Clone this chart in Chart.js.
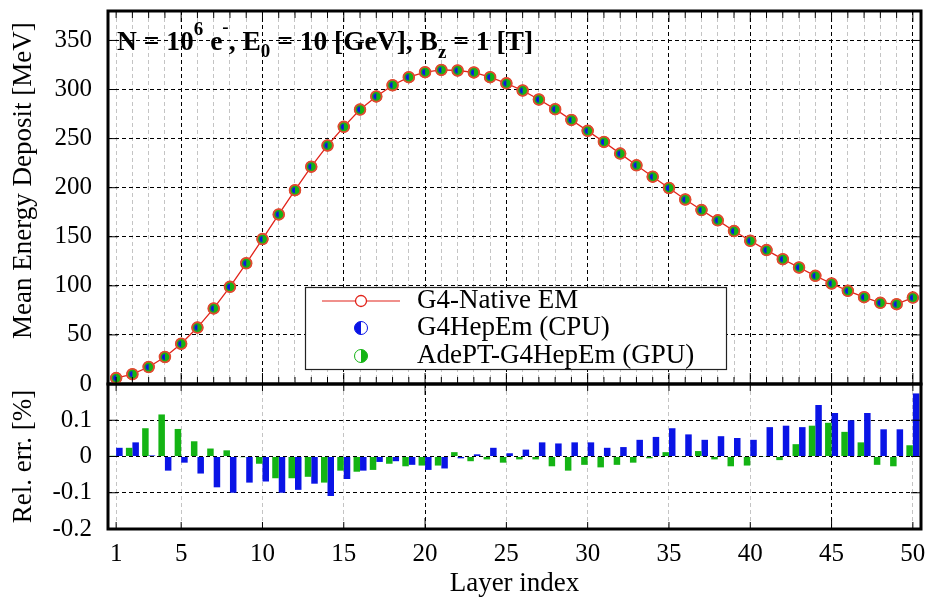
<!DOCTYPE html>
<html>
<head>
<meta charset="utf-8">
<script src="https://cdn.jsdelivr.net/npm/chart.js@4.4.0/dist/chart.umd.min.js"></script>
<style>
  body { margin: 0; background: #fff; }
  #wrap { position: relative; width: 936px; height: 597px; overflow: hidden; background: #fff; }
  canvas { position: absolute; left: 0; }
  #top { top: 0; }
  #bottom { top: 374px; }
</style>
</head>
<body>
<div id="wrap">
  <canvas id="bottom" width="936" height="223"></canvas>
  <canvas id="top" width="936" height="400"></canvas>
</div>
<script>
// layer index (categories)
var layers = ['1','2','3','4','5','6','7','8','9','10','11','12','13','14','15','16','17','18','19','20',
  '21','22','23','24','25','26','27','28','29','30','31','32','33','34','35','36','37','38','39','40',
  '41','42','43','44','45','46','47','48','49','50'];

// mean energy deposit per layer [MeV] (the three simulations overlap on this scale)
var energyDeposit = [6, 10, 17.3, 27.5, 41, 57.5, 77, 99, 123, 147.6,
  172.8, 197.5, 221.4, 243, 262, 279.6, 293, 304.4, 312.6, 317.7,
  320, 319.4, 317.4, 312.6, 306.3, 299, 289.8, 280, 269, 257.9,
  246.6, 234.7, 222.8, 211.2, 199.7, 188, 177.2, 166.7, 155.8, 145.9,
  136.4, 127.2, 118.7, 110.2, 102.4, 94.9, 88.5, 82.7, 81.3, 88];

// relative error [%] w.r.t. G4-Native EM
var gpuRelErr = [0.002, 0.024, 0.078, 0.116, 0.076, 0.042, 0.022, 0.017, -0.002, -0.02,
  -0.06, -0.06, -0.056, -0.072, -0.039, -0.042, -0.037, -0.02, -0.027, -0.025,
  -0.025, 0.012, -0.013, -0.008, -0.017, -0.008, -0.008, -0.027, -0.039, -0.023,
  -0.03, -0.023, -0.017, -0.005, 0.012, 0.001, 0.015, -0.008, -0.027, -0.025,
  0.001, -0.01, 0.034, 0.085, 0.093, 0.068, 0.039, -0.023, -0.027, 0.031];
var cpuRelErr = [0.024, 0.039, 0.003, -0.039, -0.017, -0.047, -0.085, -0.1, -0.072, -0.069,
  -0.1, -0.092, -0.075, -0.109, -0.062, -0.039, -0.015, -0.013, -0.023, -0.037,
  -0.033, -0.005, 0.006, 0.024, 0.009, 0.019, 0.039, 0.036, 0.039, 0.039,
  0.024, 0.026, 0.046, 0.054, 0.078, 0.061, 0.046, 0.056, 0.051, 0.046,
  0.081, 0.085, 0.081, 0.142, 0.12, 0.1, 0.12, 0.075, 0.075, 0.174];

var SERIF = '"Liberation Serif", "Times New Roman", serif';
var RED = '#e2231a', RING = '#e04a30', GREEN = '#14b414', BLUE = '#0a14e6';
var GRID_MINOR = '#c4c4c4';

Chart.defaults.font.family = SERIF;
Chart.defaults.color = '#000';

function halfDisc(r, color) {
  var cv = document.createElement('canvas');
  cv.width = cv.height = 2 * r + 2;
  var g = cv.getContext('2d');
  g.fillStyle = color;
  g.beginPath();
  g.moveTo(r + 1, 1);
  g.arc(r + 1, r + 1, r, -Math.PI / 2, Math.PI / 2, true);
  g.closePath();
  g.fill();
  return cv;
}

function xMajor(i) { return (i + 1) % 5 === 0; }

// keep the plot area exactly where the layout padding puts it
function noPad(s) {
  s.paddingTop = 0; s.paddingBottom = 0; s.paddingLeft = 0; s.paddingRight = 0;
}

// frame + inward tick marks
var framePlugin = {
  id: 'frame',
  afterDraw: function (chart, args, opts) {
    var c = chart.ctx, a = chart.chartArea, xs = chart.scales.x, ys = chart.scales.y;
    c.save();
    c.strokeStyle = '#000';
    c.lineWidth = 1;
    c.beginPath();
    xs.ticks.forEach(function (t, i) {
      var px = xs.getPixelForTick(i), len = xMajor(i) ? 11 : 7;
      c.moveTo(px, a.top); c.lineTo(px, a.top + len);
      c.moveTo(px, a.bottom); c.lineTo(px, a.bottom - len);
    });
    ys.ticks.forEach(function (t, i) {
      var py = ys.getPixelForTick(i), len = opts.yMajor(t.value) ? 10 : 6;
      c.moveTo(a.left, py); c.lineTo(a.left + len, py);
      c.moveTo(a.right, py); c.lineTo(a.right - len, py);
    });
    c.stroke();
    c.lineWidth = 3;
    c.strokeRect(a.left, a.top, a.right - a.left, a.bottom - a.top);
    c.restore();
  }
};

// annotation + legend box for the upper panel
var topDecor = {
  id: 'topDecor',
  afterDraw: function (chart) {
    var c = chart.ctx;
    c.save();
    // header text with super/subscripts
    var parts = [
      ['N = 10', 27.5, 0], ['6', 19, -15], [' e', 27.5, 0], ['-', 19, -17], [', E', 27.5, 0],
      ['0', 19, 7], [' = 10 [GeV], B', 27.5, 0], ['z', 19, 8], [' = 1 [T]', 27.5, 0]
    ];
    var x = 117, base = 50;
    c.fillStyle = '#000';
    c.textBaseline = 'alphabetic';
    parts.forEach(function (p) {
      c.font = 'bold ' + p[1] + 'px ' + SERIF;
      c.fillText(p[0], x, base + p[2]);
      x += c.measureText(p[0]).width;
    });

    // legend
    var L = 305, T = 287, W = 421, H = 82;
    c.fillStyle = '#fff';
    c.fillRect(L, T, W, H);
    c.strokeStyle = '#222';
    c.lineWidth = 1.2;
    c.strokeRect(L + 0.5, T + 0.5, W, H);
    var rows = [301, 328, 356], sx = 361;
    // G4-Native EM
    c.strokeStyle = RED; c.lineWidth = 1.2;
    c.beginPath(); c.moveTo(322, rows[0]); c.lineTo(400, rows[0]); c.stroke();
    c.beginPath(); c.arc(sx, rows[0], 5.5, 0, 2 * Math.PI);
    c.fillStyle = '#fff'; c.fill(); c.lineWidth = 1.3; c.stroke();
    // half discs
    function legendHalf(y, color, leftFilled) {
      c.beginPath(); c.arc(sx, y, 6.5, 0, 2 * Math.PI);
      c.fillStyle = '#fff'; c.fill();
      c.beginPath(); c.moveTo(sx, y - 6.5);
      c.arc(sx, y, 6.5, -Math.PI / 2, Math.PI / 2, leftFilled);
      c.closePath(); c.fillStyle = color; c.fill();
      c.beginPath(); c.arc(sx, y, 6.5, 0, 2 * Math.PI);
      c.strokeStyle = color; c.lineWidth = 1; c.stroke();
    }
    legendHalf(rows[1], BLUE, true);
    legendHalf(rows[2], GREEN, false);
    c.fillStyle = '#000';
    c.font = '27px ' + SERIF;
    c.textBaseline = 'middle';
    c.fillText('G4-Native EM', 417, rows[0]);
    c.fillText('G4HepEm (CPU)', 417, rows[1]);
    c.fillText('AdePT-G4HepEm (GPU)', 417, rows[2]);
    c.restore();
  }
};

var xGrid = {
  drawTicks: false,
  offset: false,
  lineWidth: 1,
  color: function (ctx) { return ctx.tick && xMajor(ctx.index) ? '#000' : GRID_MINOR; }
};

new Chart(document.getElementById('top'), {
  type: 'line',
  data: {
    labels: layers,
    datasets: [
      { label: 'G4-Native EM', data: energyDeposit, borderColor: RED, borderWidth: 1.3,
        pointRadius: 5.5, pointBorderColor: RING, pointBackgroundColor: '#fff', pointBorderWidth: 1.5,
        tension: 0, order: 2 },
      { label: 'AdePT-G4HepEm (GPU)', data: energyDeposit, showLine: false,
        pointRadius: 5.2, pointBackgroundColor: GREEN, pointBorderColor: RING, pointBorderWidth: 1.6, order: 1 },
      { label: 'G4HepEm (CPU)', data: energyDeposit, showLine: false,
        pointStyle: halfDisc(3, BLUE), pointRadius: 3, order: 0 }
    ]
  },
  options: {
    responsive: false,
    animation: false,
    devicePixelRatio: 1,
    layout: { autoPadding: false, padding: { top: 11, right: 15, bottom: 16, left: 0 } },
    plugins: {
      legend: { display: false },
      tooltip: { enabled: false },
      frame: { yMajor: function (v) { return v % 50 === 0; } }
    },
    scales: {
      x: {
        type: 'category',
        offset: true,
        grid: xGrid,
        border: { display: false, dash: [4, 3] },
        ticks: { display: false },
        afterFit: function (s) { s.height = 0; noPad(s); }
      },
      y: {
        min: 0,
        max: 380,
        afterFit: function (s) { s.width = 108; noPad(s); },
        grid: {
          drawTicks: false,
          lineWidth: 1,
          color: function (ctx) { return ctx.tick && ctx.tick.value % 50 === 0 ? '#000' : GRID_MINOR; }
        },
        border: { display: false, dash: [4, 3] },
        ticks: {
          stepSize: 10,
          autoSkip: false,
          padding: 16,
          font: { family: SERIF, size: 25 },
          callback: function (v) { return (v % 50 === 0 && v <= 350) ? String(v) : null; }
        },
        title: {
          display: true,
          // leading spaces lift the centred title a little, as in the original
          text: '     Mean Energy Deposit [MeV]',
          font: { family: SERIF, size: 27, lineHeight: 1 },
          padding: { top: 10, bottom: 0 }
        }
      }
    }
  },
  plugins: [framePlugin, topDecor]
});

new Chart(document.getElementById('bottom'), {
  type: 'bar',
  data: {
    labels: layers,
    datasets: [
      { label: 'AdePT-G4HepEm (GPU)', data: gpuRelErr, backgroundColor: GREEN,
        categoryPercentage: 0.8, barPercentage: 1.0 },
      { label: 'G4HepEm (CPU)', data: cpuRelErr, backgroundColor: BLUE,
        categoryPercentage: 0.8, barPercentage: 1.0 }
    ]
  },
  options: {
    responsive: false,
    animation: false,
    devicePixelRatio: 1,
    layout: { autoPadding: false, padding: { top: 10, right: 15, bottom: 0, left: 0 } },
    plugins: {
      legend: { display: false },
      tooltip: { enabled: false },
      frame: { yMajor: function (v) { return Math.round(v * 100) % 10 === 0; } }
    },
    scales: {
      x: {
        type: 'category',
        offset: true,
        grid: xGrid,
        border: { display: false, dash: [4, 3] },
        ticks: {
          autoSkip: false,
          maxRotation: 0,
          padding: 10,
          font: { family: SERIF, size: 25 },
          callback: function (v, i) { return (i === 0 || xMajor(i)) ? layers[i] : null; }
        },
        title: {
          display: true,
          text: 'Layer index',
          font: { family: SERIF, size: 27, lineHeight: 0.95 },
          padding: { top: 0, bottom: 0 }
        },
        afterFit: function (s) { s.height = 68; noPad(s); }
      },
      y: {
        min: -0.2,
        max: 0.2,
        afterFit: function (s) { s.width = 108; noPad(s); },
        grid: {
          drawTicks: false,
          lineWidth: 1,
          color: function (ctx) {
            return ctx.tick && Math.round(ctx.tick.value * 100) % 10 === 0 ? '#000' : GRID_MINOR;
          }
        },
        border: { display: false, dash: [4, 3] },
        ticks: {
          stepSize: 0.05,
          autoSkip: false,
          padding: 16,
          font: { family: SERIF, size: 25 },
          callback: function (v) {
            var k = Math.round(v * 100);
            return (k % 10 === 0 && k < 20) ? String(k / 100) : null;
          }
        },
        title: {
          display: true,
          text: 'Rel. err. [%]',
          font: { family: SERIF, size: 27, lineHeight: 1 },
          padding: { top: 10, bottom: 0 }
        }
      }
    }
  },
  plugins: [framePlugin]
});
</script>
</body>
</html>
